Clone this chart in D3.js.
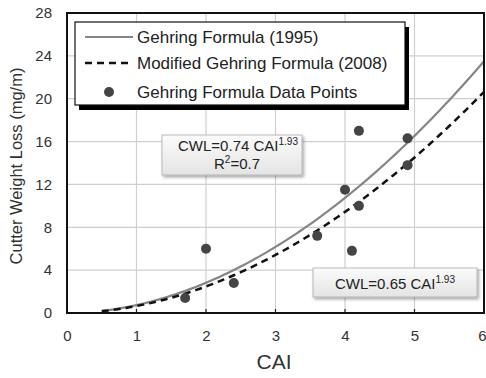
<!DOCTYPE html>
<html>
<head>
<meta charset="utf-8">
<script src="https://cdn.jsdelivr.net/npm/d3@7/dist/d3.min.js"></script>
<style>
  html, body { margin: 0; padding: 0; background: #fff; }
  svg { display: block; font-family: "Liberation Sans", Arial, sans-serif; }
</style>
</head>
<body>
<svg id="chart" width="486" height="378"></svg>
<script>
// Measured CAI vs cutter weight loss
const pointCAI = [1.7, 2.0, 2.4, 3.6, 4.0, 4.1, 4.2, 4.2, 4.9, 4.9];
const pointCWL = [1.4, 6.0, 2.8, 7.2, 11.5, 5.8, 17.0, 10.0, 16.3, 13.8];

// Power-law fits: CWL = a * CAI^b
const fitNames = ["Gehring Formula (1995)", "Modified Gehring Formula (2008)"];
const fitCoef = [0.74, 0.65];
const fitExp = [1.93, 1.93];
const fitRange = [0.5, 6];

const xTicks = [0, 1, 2, 3, 4, 5, 6];
const yTicks = [0, 4, 8, 12, 16, 20, 24, 28];

const svg = d3.select("#chart");
const L = 67, R = 484, T = 13, B = 313;

const x = d3.scaleLinear().domain([0, 6]).range([L, R]);
const y = d3.scaleLinear().domain([0, 28]).range([B, T]);

const defs = svg.append("defs");
const grad = defs.append("linearGradient").attr("id", "boxFill")
  .attr("x1", 0).attr("y1", 0).attr("x2", 0).attr("y2", 1);
grad.append("stop").attr("offset", "0%").attr("stop-color", "#fbfbfb");
grad.append("stop").attr("offset", "100%").attr("stop-color", "#e4e4e4");
const shadow = defs.append("filter").attr("id", "soft")
  .attr("x", "-10%").attr("y", "-20%").attr("width", "130%").attr("height", "160%");
shadow.append("feDropShadow").attr("dx", 1.5).attr("dy", 2).attr("stdDeviation", 1.5)
  .attr("flood-color", "#000").attr("flood-opacity", 0.35);

// grid
svg.append("g").selectAll("line").data(xTicks.slice(1, -1)).join("line")
  .attr("x1", d => x(d)).attr("x2", d => x(d)).attr("y1", T).attr("y2", B)
  .attr("stroke", "#cfcfcf").attr("stroke-width", 1.2);
svg.append("g").selectAll("line").data(yTicks.slice(1, -1)).join("line")
  .attr("x1", L).attr("x2", R).attr("y1", d => y(d)).attr("y2", d => y(d))
  .attr("stroke", "#cfcfcf").attr("stroke-width", 1.2);

// axes
const xAxis = svg.append("g").attr("transform", `translate(0,${B})`)
  .call(d3.axisBottom(x).tickValues(xTicks).tickSize(0).tickPadding(17).tickFormat(d3.format("d")));
const yAxis = svg.append("g").attr("transform", `translate(${L},0)`)
  .call(d3.axisLeft(y).tickValues(yTicks).tickSize(0).tickPadding(15).tickFormat(d3.format("d")));
[xAxis, yAxis].forEach(g => {
  g.select(".domain").remove();
  g.selectAll("text").attr("font-size", 15).attr("fill", "#333")
    .attr("font-family", "Liberation Sans, Arial, sans-serif");
});
// keep the last x label inside the canvas
xAxis.selectAll(".tick").filter(d => d === 6).select("text")
  .attr("text-anchor", "end").attr("x", 2);

// small inner ticks along bottom
svg.append("g").selectAll("line").data(xTicks.slice(1, -1)).join("line")
  .attr("x1", d => x(d)).attr("x2", d => x(d)).attr("y1", B - 4).attr("y2", B)
  .attr("stroke", "#222").attr("stroke-width", 1.2);

// fitted curves
const line = d3.line().x(d => x(d[0])).y(d => y(d[1]));
const curveData = fitCoef.map((a, i) =>
  d3.range(fitRange[0], fitRange[1] + 1e-9, 0.05).map(c => [c, a * Math.pow(c, fitExp[i])]));

svg.append("path").datum(curveData[0]).attr("d", line)
  .attr("fill", "none").attr("stroke", "#858585").attr("stroke-width", 2.2);
svg.append("path").datum(curveData[1]).attr("d", line)
  .attr("fill", "none").attr("stroke", "#111").attr("stroke-width", 2.5)
  .attr("stroke-dasharray", "7,5");

// data points
svg.append("g").selectAll("circle").data(d3.range(pointCAI.length)).join("circle")
  .attr("cx", i => x(pointCAI[i])).attr("cy", i => y(pointCWL[i])).attr("r", 5)
  .attr("fill", "#444");

// plot frame
svg.append("rect").attr("x", L).attr("y", T).attr("width", R - L).attr("height", B - T)
  .attr("fill", "none").attr("stroke", "#111").attr("stroke-width", 2);

// legend
const lg = svg.append("g");
lg.append("rect").attr("x", 79).attr("y", 27).attr("width", 330).attr("height", 83).attr("fill", "#000");
lg.append("rect").attr("x", 75).attr("y", 22).attr("width", 330).attr("height", 83)
  .attr("fill", "#fff").attr("stroke", "#111").attr("stroke-width", 1.2);
const rowsY = [37, 63, 92];
lg.append("line").attr("x1", 85).attr("x2", 133).attr("y1", rowsY[0]).attr("y2", rowsY[0])
  .attr("stroke", "#858585").attr("stroke-width", 2.2);
lg.append("line").attr("x1", 85).attr("x2", 133).attr("y1", rowsY[1]).attr("y2", rowsY[1])
  .attr("stroke", "#111").attr("stroke-width", 2.5).attr("stroke-dasharray", "7,5");
lg.append("circle").attr("cx", 109).attr("cy", rowsY[2]).attr("r", 5).attr("fill", "#444");
const legendText = [fitNames[0], fitNames[1], "Gehring Formula Data Points"];
lg.selectAll("text.lt").data(legendText).join("text").attr("class", "lt")
  .attr("x", 137).attr("y", (d, i) => rowsY[i]).attr("dy", "0.35em")
  .attr("font-size", 17).attr("fill", "#222").text(d => d);

// annotation boxes
function noteBox(x0, y0, w, h) {
  svg.append("rect").attr("x", x0).attr("y", y0).attr("width", w).attr("height", h)
    .attr("fill", "url(#boxFill)").attr("stroke", "#aaa").attr("stroke-width", 0.8)
    .attr("filter", "url(#soft)");
}
function formula(cx, cy, a, b) {
  const t = svg.append("text").attr("x", cx).attr("y", cy).attr("text-anchor", "middle")
    .attr("font-size", 15).attr("fill", "#222");
  t.append("tspan").text(`CWL=${a.toFixed(2)} CAI`);
  t.append("tspan").attr("font-size", 10).attr("dy", -6).text(b.toFixed(2));
}

noteBox(162, 135, 140, 40);
formula(238, 151, fitCoef[0], fitExp[0]);
const r2 = svg.append("text").attr("x", 237).attr("y", 169).attr("text-anchor", "middle")
  .attr("font-size", 15).attr("fill", "#222");
r2.append("tspan").text("R");
r2.append("tspan").attr("font-size", 10).attr("dy", -6).text("2");
r2.append("tspan").attr("dy", 6).text("=0.7");

noteBox(313, 268, 164, 29);
formula(395, 289, fitCoef[1], fitExp[1]);

// axis titles
svg.append("text").attr("x", 274).attr("y", 369).attr("text-anchor", "middle")
  .attr("font-size", 21).attr("fill", "#333").text("CAI");
svg.append("text").attr("transform", "translate(22,166) rotate(-90)").attr("text-anchor", "middle")
  .attr("font-size", 16.5).attr("fill", "#333").text("Cutter Weight Loss (mg/m)");
</script>
</body>
</html>
